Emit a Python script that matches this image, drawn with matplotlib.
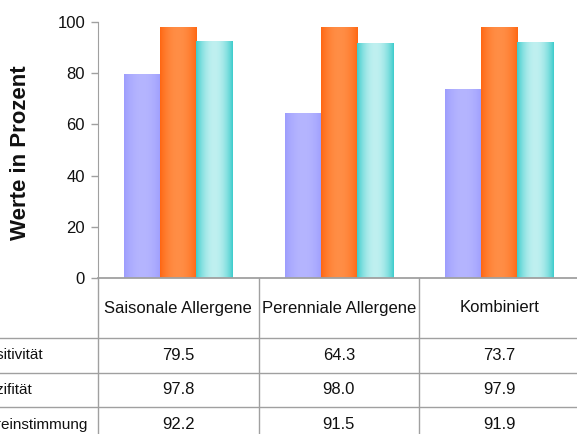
import numpy as np
import matplotlib
matplotlib.use("Agg")
import matplotlib.pyplot as plt
from matplotlib.colors import to_rgb

plt.rcParams['font.family'] = ['Liberation Sans', 'DejaVu Sans']

categories = ['Saisonale Allergene', 'Perenniale Allergene', 'Kombiniert']
series_names = ['Sensitivität', 'Spezifität', 'Übereinstimmung']
sensitivitaet = [79.5, 64.3, 73.7]
spezifitaet = [97.8, 98.0, 97.9]
uebereinstimmung = [92.2, 91.5, 91.9]
yticks = [0, 20, 40, 60, 80, 100]

# (edge colour, centre colour) for the cylinder-like gradient
bar_colors = [('#9d9dfd', '#b5b5ff'),
              ('#ff6611', '#ff8e46'),
              ('#3ccccc', '#bff0f0')]

W, H = 577, 434
fig = plt.figure(figsize=(W / 100, H / 100), dpi=100)

# pixel layout
ax_left, ax_top, ax_bottom = 98, 22, 278
col_w = 160.5
ax = fig.add_axes([ax_left / W, (H - ax_bottom) / H, 3 * col_w / W, (ax_bottom - ax_top) / H])

grid_c = '#a0a0a0'
x = np.arange(len(categories))
bw = 0.225
series = [sensitivitaet, spezifitaet, uebereinstimmung]


def gradient_img(edge, centre, n=64):
    t = np.linspace(0, 1, n)
    f = np.sin(np.pi * t) ** 0.8
    e = np.array(to_rgb(edge))
    c = np.array(to_rgb(centre))
    img = e[None, :] + (c - e)[None, :] * f[:, None]
    return img[None, :, :]


for i, vals in enumerate(series):
    bars = ax.bar(x + (i - 1) * bw, vals, width=bw, color='none', edgecolor='none')
    img = gradient_img(*bar_colors[i])
    for b in bars:
        ax.imshow(img, extent=[b.get_x(), b.get_x() + b.get_width(), 0, b.get_height()],
                  aspect='auto', zorder=2, interpolation='bilinear')

ax.set_xlim(-0.5, 2.5)
ax.set_ylim(0, 100)
ax.set_yticks(yticks)
ax.set_xticks([])
ax.tick_params(axis='y', length=5, width=1, color=grid_c, pad=4.3, labelsize=12, labelcolor='#111111')
for s in ['top', 'right']:
    ax.spines[s].set_visible(False)
ax.spines['left'].set_color(grid_c)
ax.spines['bottom'].set_color(grid_c)
ax.spines['bottom'].set_linewidth(1.3)

fig.text(20.5 / W, 1 - 153 / H, 'Werte in Prozent', rotation=90, ha='center', va='center',
         fontsize=16, fontweight='bold', color='#111111')

# data table below the chart, in pixel units below the x axis
tab_h = H - ax_bottom
tab = fig.add_axes([0, 0, (ax_left + 3 * col_w) / W, tab_h / H])
tab.set_xlim(-0.5 - ax_left / col_w, 2.5)
tab.set_ylim(tab_h, 0)
tab.axis('off')

header_h = 60
row_h = 34.5
row_lines = [header_h + k * row_h for k in range(3)]
for yl in row_lines:
    tab.plot([-0.5 - ax_left / col_w, 2.5], [yl, yl], color=grid_c, lw=1, clip_on=False)
for xv in [-0.5, 0.5, 1.5, 2.5]:
    tab.plot([xv, xv], [0, tab_h], color=grid_c, lw=1, clip_on=False)

for j, cat in enumerate(categories):
    tab.text(x[j], header_h / 2, cat, ha='center', va='center', fontsize=12, color='#111111')
# row labels start left of the picture edge, as in the original (cut off there)
label_x = -0.5 - (ax_left + 31) / col_w
for i, (name, vals) in enumerate(zip(series_names, series)):
    yc = header_h + (i + 0.5) * row_h
    tab.text(label_x, yc, name, ha='left', va='center', fontsize=11, color='#111111')
    for j, v in enumerate(vals):
        tab.text(x[j], yc, f'{v:.1f}', ha='center', va='center', fontsize=12, color='#111111')

fig.savefig('out.png', dpi=100)
